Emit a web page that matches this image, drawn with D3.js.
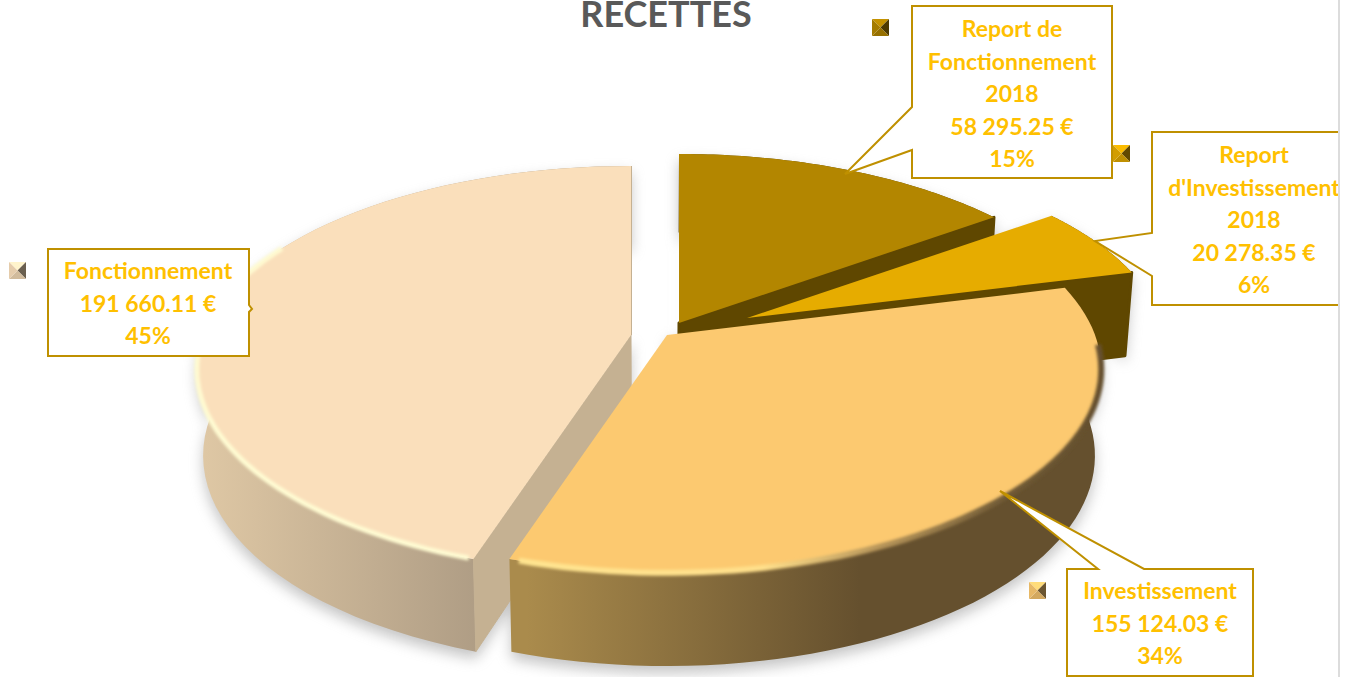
<!DOCTYPE html>
<html lang="fr">
<head>
<meta charset="utf-8">
<title>Recettes</title>
<script src="https://cdn.jsdelivr.net/npm/d3@7/dist/d3.min.js"></script>
<style>
  html, body { margin: 0; padding: 0; background: #fff; overflow: hidden; }
  svg { display: block; }
  text { font-family: Lato, "Noto Sans", sans-serif; font-weight: 700; }
</style>
</head>
<body>
<svg id="chart" width="1357" height="677"></svg>
<script>
// Budget figures, clockwise from twelve o'clock
const categories = ["Report de Fonctionnement 2018", "Report d'Investissement 2018", "Investissement", "Fonctionnement"];
const amounts = [58295.25, 20278.35, 155124.03, 191660.11];
const shares = [15, 6, 34, 45];
const chartTitle = "RECETTES";

// Wrapped category names for the callouts
const nameLines = [["Report de", "Fonctionnement", "2018"], ["Report", "d'Investissement", "2018"], ["Investissement"], ["Fonctionnement"]];

// Colours
const topColours = ["#b38600", "#e6ac00", "#fcc970", "#fadfbb"];
const cutColours = ["#5f4700", "#5f4700", "#a98a4c", "#c5b192"];
const calloutStroke = "#bf9000";
const labelColour = "#ffc000";

// Exploded position of each slice: apex on screen and size factor
const apexX = [679, 747, 667, 631];
const apexY = [323, 318, 335, 335];
const sizeFactor = [1, 0.967, 1, 1];

// Callout boxes: rect, pointer and swatch geometry
const boxes = [
  { x: 912, y: 6, w: 200, h: 172, tail: [[912, 107], [845, 174], [912, 150]], side: "left", cx: 1012, base: 37, swatch: [872, 19] },
  { x: 1152, y: 132, w: 200, h: 173, tail: [[1152, 233], [1095, 241], [1152, 276]], side: "left", cx: 1254, base: 163, swatch: [1113, 145] },
  { x: 1067, y: 569, w: 186, h: 107, tail: [[1098, 569], [1000, 491], [1144, 569]], side: "top", cx: 1160, base: 599, swatch: [1029, 582] },
  { x: 48, y: 249, w: 201, h: 107, tail: [[249, 305], [252, 309], [249, 312]], side: "right", cx: 148, base: 279, swatch: [9, 262] }
];

const svg = d3.select("#chart");
const defs = svg.append("defs");

// Oblique view of the disc: far edge shrinks, near edge grows
const perspective = 0.169;
const wallHeight = 85;
const taper = 0.014;
const taperCentre = 650;
const sx = d3.scaleLinear().domain([-1, 1]).range([-428, 428]);
const sy = d3.scaleLinear().domain([-1, 1]).range([197.6, -197.6]);

function rimPoint(i, t) {
  const X = Math.sin(t), Y = Math.cos(t), p = 1 / (1 + perspective * Y), s = sizeFactor[i];
  return [apexX[i] + sx(X * p * s), apexY[i] + sy(Y * p * s), p];
}
function drop(pt) {
  const p = pt[2] === undefined ? 1 : pt[2];
  return [pt[0] + (taperCentre - pt[0]) * taper, pt[1] + wallHeight * Math.sqrt(p)];
}
const line = d3.line();
const arcPoints = (i, a0, a1) => d3.range(0, 61).map(k => rimPoint(i, a0 + (a1 - a0) * k / 60));

const slices = d3.pie().sort(null)(shares);

function addBlur(id, dev) {
  defs.append("filter").attr("id", id)
    .attr("x", "-20%").attr("y", "-20%").attr("width", "140%").attr("height", "140%")
    .append("feGaussianBlur").attr("stdDeviation", dev);
}
addBlur("softShadow", 7);
addBlur("softRim", 1.6);

function addGradient(id, x1, x2, stops) {
  const g = defs.append("linearGradient").attr("id", id)
    .attr("gradientUnits", "userSpaceOnUse")
    .attr("x1", x1).attr("x2", x2).attr("y1", 0).attr("y2", 0);
  stops.forEach(s => g.append("stop").attr("offset", s[0]).attr("stop-color", s[1]));
}
addGradient("wallFonct", 205, 484, [[0, "#dec7a4"], [1, "#ae9c84"]]);
addGradient("wallInvest", 527, 860, [[0, "#aa8b4c"], [1, "#65502e"]]);
addGradient("rimInvest", 527, 1090, [[0, "#ffe48f"], [0.42, "#ffdf8a"], [0.62, "#b8965a"], [0.85, "#705a35"], [1, "#65502e"]]);

const outerWall = { 0: "#5f4700", 1: "#5f4700", 2: "url(#wallInvest)", 3: "url(#wallFonct)" };

// Soft ground shadow under every slice
const shadow = svg.append("g").attr("filter", "url(#softShadow)").attr("opacity", 0.5);
slices.forEach((d, i) => {
  const top = arcPoints(i, d.startAngle, d.endAngle);
  const apex = [apexX[i], apexY[i]];
  const pts = [apex, ...top, ...top.slice().reverse().map(drop), drop(apex)];
  shadow.append("path").attr("d", line(pts) + "Z").attr("fill", "#8a8a8a")
    .attr("transform", "translate(0,7)");
});

// Slices, painted from the back of the pie to the front
[0, 1, 3, 2].forEach(i => {
  const d = slices[i];
  const g = svg.append("g").attr("class", "slice");
  const apex = [apexX[i], apexY[i]];
  const top = arcPoints(i, d.startAngle, d.endAngle);

  g.append("path")
    .attr("d", line([...top, ...top.slice().reverse().map(drop)]) + "Z")
    .attr("fill", outerWall[i]);

  // Cut face that looks towards the viewer
  const faceEnd = i === 3 ? top[0] : top[top.length - 1];
  const face = [apex, faceEnd, drop(faceEnd), drop(apex)];
  if (i !== 2) {
    g.append("path").attr("d", line(face) + "Z")
      .attr("fill", cutColours[i]).attr("stroke", cutColours[i])
      .attr("stroke-width", i < 2 ? 3 : 1).attr("stroke-linejoin", "round");
  }
  if (i === 3) {
    // Thin sliver of the rear cut face
    g.append("path").attr("d", line([apex, top[top.length - 1]]))
      .attr("stroke", cutColours[3]).attr("stroke-width", 2).attr("fill", "none");
  }

  g.append("path").attr("d", line([apex, ...top]) + "Z").attr("fill", topColours[i]);

  // Lit bevel along the front rim
  if (i === 3) {
    g.append("path").attr("d", line(arcPoints(i, d.startAngle + 0.01, d.startAngle + 1.75)))
      .attr("fill", "none").attr("stroke", "#fffbd2").attr("stroke-width", 5)
      .attr("filter", "url(#softRim)");
  }
  if (i === 2) {
    g.append("path").attr("d", line(arcPoints(i, d.startAngle + 0.3, d.endAngle - 0.02)))
      .attr("fill", "none").attr("stroke", "url(#rimInvest)").attr("stroke-width", 6)
      .attr("filter", "url(#softRim)");
  }
});

// Callouts are cut off by the edge of the plot area
defs.append("clipPath").attr("id", "plotEdge").append("rect")
  .attr("x", 0).attr("y", 0).attr("width", 1338).attr("height", 677);
const callouts = svg.append("g").attr("clip-path", "url(#plotEdge)");

const money = d3.formatLocale({ decimal: ".", thousands: " ", grouping: [3], currency: ["", " €"] }).format(",.2f");

boxes.forEach((b, i) => {
  const corners = { tl: [b.x, b.y], tr: [b.x + b.w, b.y], br: [b.x + b.w, b.y + b.h], bl: [b.x, b.y + b.h] };
  let outline;
  if (b.side === "left") {
    outline = [corners.tl, corners.tr, corners.br, corners.bl, ...b.tail.slice().reverse()];
  } else if (b.side === "top") {
    outline = [corners.tl, ...b.tail, corners.tr, corners.br, corners.bl];
  } else {
    outline = [corners.tl, corners.tr, ...b.tail, corners.br, corners.bl];
  }
  callouts.append("path").attr("d", line(outline) + "Z")
    .attr("fill", "#fff").attr("stroke", calloutStroke).attr("stroke-width", 2);

  const lines = [...nameLines[i], money(amounts[i]) + " €", shares[i] + "%"];
  callouts.append("g").selectAll("text").data(lines).join("text")
    .attr("x", b.cx)
    .attr("y", (_, k) => b.base + k * 32.6)
    .attr("text-anchor", "middle")
    .attr("font-size", 23)
    .attr("fill", labelColour)
    .text(t => t);
});

// Bevelled legend swatches
boxes.forEach((b, i) => {
  const [x, y] = b.swatch, s = 17, c = [x + s / 2, y + s / 2];
  const base = d3.color(topColours[i]);
  const facets = [
    [[x, y], [x + s, y], c, base.brighter(0.25)],
    [[x + s, y], [x + s, y + s], c, base.darker(2.4)],
    [[x + s, y + s], [x, y + s], c, base.darker(0.5)],
    [[x, y + s], [x, y], c, base.darker(0.25)]
  ];
  const g = svg.append("g").attr("class", "swatch");
  facets.forEach(f => g.append("path").attr("d", line(f.slice(0, 3)) + "Z").attr("fill", f[3].formatHex()));
});

svg.append("text").attr("x", 666).attr("y", 26.5).attr("text-anchor", "middle")
  .attr("font-size", 36).attr("fill", "#595959").text(chartTitle);

// Right-hand border of the sheet
svg.append("line").attr("x1", 1339).attr("x2", 1339).attr("y1", 0).attr("y2", 677)
  .attr("stroke", "#dcdcdc").attr("stroke-width", 2);
</script>
</body>
</html>
